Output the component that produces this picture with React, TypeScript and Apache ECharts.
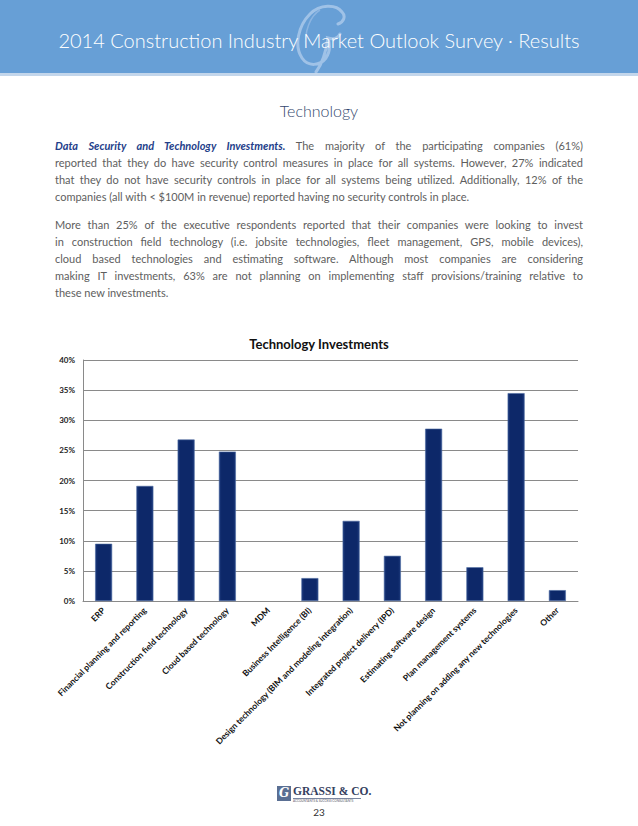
import React, { useEffect, useRef } from "react";
import * as echarts from "echarts";

const categories: string[] = [
  "ERP",
  "Financial planning and reporting",
  "Construction field technology",
  "Cloud based technology",
  "MDM",
  "Business Intelligence (BI)",
  "Design technology (BIM and modeling integration)",
  "Integrated project delivery (IPD)",
  "Estimating software design",
  "Plan management systems",
  "Not planning on adding any new technologies",
  "Other",
];

const investmentValues: number[] = [9.5, 19.1, 26.8, 24.8, 0, 3.8, 13.3, 7.5, 28.6, 5.6, 34.5, 1.8];

const yMin = 0;
const yMax = 40;
const yStep = 5;

const para1Lines: string[] = [
  "The majority of the participating companies (61%)",
  "reported that they do have security control measures in place for all systems. However, 27% indicated",
  "that they do not have security controls in place for all systems being utilized.  Additionally, 12% of the",
  "companies (all with < $100M in revenue) reported having no security controls in place.",
];
const para2Lines: string[] = [
  "More than 25% of the executive respondents reported that their companies were looking to invest",
  "in construction field technology (i.e. jobsite technologies, fleet management, GPS, mobile devices),",
  "cloud based technologies and estimating software.  Although most companies are considering",
  "making IT investments, 63% are not planning on implementing staff provisions/training relative to",
  "these new investments.",
];

const FONT = "Lato, 'DejaVu Sans', sans-serif";

function Line({ y, last, children }: { y: number; last?: boolean; children: React.ReactNode }) {
  return (
    <div
      style={{
        position: "absolute",
        left: 55,
        width: 528,
        top: y - 8,
        height: 17,
        lineHeight: "17px",
        fontSize: 11,
        fontFamily: FONT,
        color: "#5e5e5e",
        textAlign: last ? "left" : "justify",
        textAlignLast: last ? "left" : "justify",
        whiteSpace: "nowrap",
        overflow: "visible",
      }}
    >
      {children}
    </div>
  );
}

export default function App() {
  const ref = useRef<HTMLDivElement>(null);

  useEffect(() => {
    if (!ref.current) return;
    const chart = echarts.init(ref.current, undefined, { renderer: "svg" });
    chart.setOption({
      animation: false,
      title: {
        text: "Technology Investments",
        left: "center",
        top: 7,
        textStyle: { fontFamily: FONT, fontSize: 13, fontWeight: "bold", color: "#111" },
      },
      grid: { left: 83, right: 60, top: 35, height: 241, containLabel: false },
      xAxis: {
        type: "category",
        data: categories,
        axisLine: { show: true, lineStyle: { color: "#8a8a8a", width: 1 } },
        axisTick: { show: false },
        axisLabel: {
          interval: 0,
          rotate: 45,
          margin: 8,
          fontFamily: FONT,
          fontSize: 8.5,
          fontWeight: "bold",
          color: "#111",
        },
      },
      yAxis: {
        type: "value",
        min: yMin,
        max: yMax,
        interval: yStep,
        axisLine: { show: true, lineStyle: { color: "#8a8a8a", width: 1 } },
        axisTick: { show: false },
        splitLine: { show: true, lineStyle: { color: "#8a8a8a", width: 1 } },
        axisLabel: {
          formatter: "{value}%",
          margin: 8,
          fontFamily: FONT,
          fontSize: 8,
          fontWeight: "bold",
          color: "#222",
        },
      },
      series: [
        {
          type: "bar",
          data: investmentValues.map((v) => (v === 0 ? { value: v, itemStyle: { borderWidth: 0 } } : v)),
          barWidth: 17,
          itemStyle: {
            color: new echarts.graphic.LinearGradient(0, 0, 1, 0, [
              { offset: 0, color: "#1d3a7c" },
              { offset: 0.15, color: "#0d2869" },
              { offset: 0.85, color: "#0d2869" },
              { offset: 1, color: "#1d3a7c" },
            ]),
            borderColor: "#4a68a0",
            borderWidth: 0.6,
          },
        },
      ],
    });
    return () => chart.dispose();
  }, []);

  return (
    <div
      style={{
        position: "absolute",
        left: 0,
        top: 0,
        width: 638,
        height: 826,
        background: "#fff",
        overflow: "hidden",
        fontFamily: FONT,
      }}
    >
      {/* header band */}
      <div style={{ position: "absolute", left: 0, top: 0, width: 638, height: 73, background: "#679fd6" }} />
      <div style={{ position: "absolute", left: 0, top: 73, width: 638, height: 3, background: "#c3d6eb" }} />
      <svg
        style={{ position: "absolute", left: 280, top: 2, width: 80, height: 72 }}
        viewBox="0 0 80 72"
      >
        <path
          d="M62 10 C56 2 40 2 30 12 C18 24 14 44 22 56 C28 65 40 64 46 56 C50 50 50 42 48 36 C54 38 58 36 60 32 M48 36 C46 50 42 62 36 70 M62 10 C66 14 64 20 58 22"
          fill="none"
          stroke="rgba(205,222,245,0.55)"
          strokeWidth={3}
          strokeLinecap="round"
        />
        <path
          d="M40 8 C30 14 24 30 26 46"
          fill="none"
          stroke="rgba(205,222,245,0.35)"
          strokeWidth={1.5}
        />
      </svg>
      <div
        style={{
          position: "absolute",
          left: 0,
          top: 27,
          width: 638,
          textAlign: "center",
          fontSize: 20,
          lineHeight: "26px",
          fontWeight: 300,
          color: "#ffffff",
        }}
      >
        2014 Construction Industry Market Outlook Survey · Results
      </div>

      {/* section heading */}
      <div
        style={{
          position: "absolute",
          left: 0,
          top: 100,
          width: 638,
          textAlign: "center",
          fontSize: 16,
          lineHeight: "22px",
          fontWeight: 300,
          color: "#34476e",
        }}
      >
        Technology
      </div>

      <Line y={145}>
        <span style={{ fontWeight: "bold", fontStyle: "italic", color: "#24408a" }}>
          Data Security and Technology Investments.
        </span>
        {"  "}
        {para1Lines[0]}
      </Line>
      <Line y={162}>{para1Lines[1]}</Line>
      <Line y={179}>{para1Lines[2]}</Line>
      <Line y={196} last>
        {para1Lines[3]}
      </Line>

      <Line y={224}>{para2Lines[0]}</Line>
      <Line y={241}>{para2Lines[1]}</Line>
      <Line y={258}>{para2Lines[2]}</Line>
      <Line y={275}>{para2Lines[3]}</Line>
      <Line y={292} last>
        {para2Lines[4]}
      </Line>

      {/* chart */}
      <div ref={ref} style={{ position: "absolute", left: 0, top: 325, width: 638, height: 455 }} />

      {/* footer logo */}
      <div
        style={{
          position: "absolute",
          left: 277,
          top: 786,
          width: 14,
          height: 15,
          background: "#5a6f93",
          color: "#fff",
          fontFamily: "'DejaVu Serif', serif",
          fontStyle: "italic",
          fontWeight: "bold",
          fontSize: 12,
          lineHeight: "15px",
          textAlign: "center",
        }}
      >
        G
      </div>
      <div
        style={{
          position: "absolute",
          left: 293,
          top: 785,
          fontFamily: "'Liberation Serif', 'DejaVu Serif', serif",
          fontWeight: "bold",
          fontSize: 11.5,
          lineHeight: "13px",
          color: "#34405e",
          whiteSpace: "nowrap",
        }}
      >
        GRASSI &amp; CO.
      </div>
      <div style={{ position: "absolute", left: 293, top: 798, width: 68, height: 1, background: "#7a86a0" }} />
      <div
        style={{
          position: "absolute",
          left: 293,
          top: 799,
          fontSize: 3,
          lineHeight: "4px",
          color: "#556",
          whiteSpace: "nowrap",
        }}
      >
        ACCOUNTANTS &amp; SUCCESS CONSULTANTS
      </div>
      <div
        style={{
          position: "absolute",
          left: 0,
          top: 805,
          width: 638,
          textAlign: "center",
          fontSize: 10,
          lineHeight: "14px",
          color: "#333",
        }}
      >
        23
      </div>
    </div>
  );
}
